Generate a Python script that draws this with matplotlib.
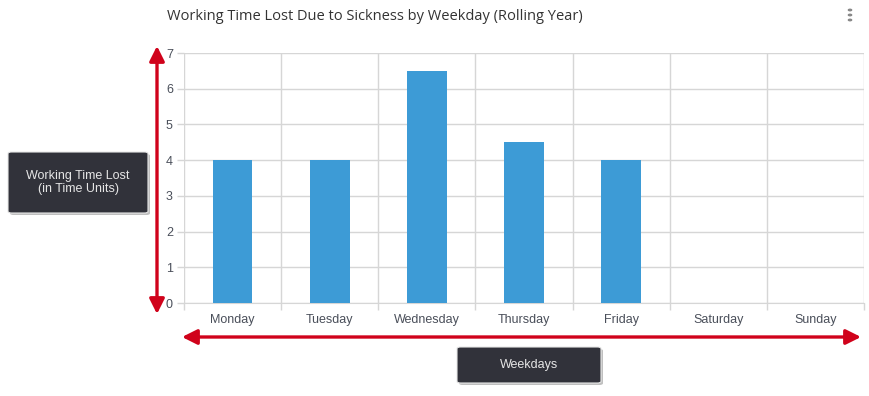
import matplotlib
matplotlib.use("Agg")
import matplotlib.pyplot as plt
from matplotlib.patches import FancyBboxPatch
from matplotlib.ticker import FixedLocator

categories = ["Monday", "Tuesday", "Wednesday", "Thursday", "Friday", "Saturday", "Sunday"]
values = [4, 4, 6.5, 4.5, 4, 0, 0]
yticks = [0, 1, 2, 3, 4, 5, 6, 7]
title = "Working Time Lost Due to Sickness by Weekday (Rolling Year)"
ylabel_box = "Working Time Lost\n(in Time Units)"
xlabel_box = "Weekdays"

W, H = 869, 396
fig = plt.figure(figsize=(W / 100, H / 100), dpi=100)
plt.rcParams['font.family'] = ['Liberation Sans', 'DejaVu Sans']

def fx(px):
    return px / W

def fy(py):
    return 1 - py / H

ax = fig.add_axes([fx(184), fy(303), fx(864) - fx(184), fy(53) - fy(303)])
xs = list(range(len(categories)))
ax.bar(xs, values, width=0.41, color="#3d9bd6", zorder=3)
ax.set_xlim(-0.5, len(categories) - 0.5)
ax.set_ylim(0, 7)
ax.set_yticks(yticks)
ax.set_xticks(xs)
ax.set_xticklabels(categories)
ax.xaxis.set_minor_locator(FixedLocator([i - 0.5 for i in range(len(categories) + 1)]))
ax.grid(axis="y", which="major", color="#d6d6d6", linewidth=1, zorder=0)
ax.grid(axis="x", which="minor", color="#d6d6d6", linewidth=1, zorder=0)
ax.tick_params(axis="x", which="major", length=0, pad=8, labelsize=9, labelcolor="#4a4f5a")
ax.tick_params(axis="x", which="minor", length=5, color="#d6d6d6", width=1)
ax.tick_params(axis="y", length=5, color="#d6d6d6", width=1, pad=3, labelsize=9, labelcolor="#4a4f5a")
for s in ["top", "right", "left"]:
    ax.spines[s].set_visible(False)
ax.spines["bottom"].set_color("#d6d6d6")

fig.text(fx(167), fy(17), title, fontsize=10.5, color="#333333", va="center", ha="left",
         family=['Open Sans', 'DejaVu Sans'])
# menu dots
for dy in (10, 15, 20):
    fig.patches.append(plt.Circle((fx(850), fy(dy)), 1.6 / W, transform=fig.transFigure,
                                  color="#888888"))

red = "#d0021b"
ax.annotate("", xy=(fx(157), fy(46)), xytext=(fx(157), fy(314)), xycoords="figure fraction",
            textcoords="figure fraction", annotation_clip=False,
            arrowprops=dict(arrowstyle="<|-|>,head_length=0.9,head_width=0.45", color=red, lw=2.4,
                            shrinkA=0, shrinkB=0))
ax.annotate("", xy=(fx(861), fy(337)), xytext=(fx(182), fy(337)), xycoords="figure fraction",
            textcoords="figure fraction", annotation_clip=False,
            arrowprops=dict(arrowstyle="<|-|>,head_length=0.9,head_width=0.45", color=red, lw=2.4,
                            shrinkA=0, shrinkB=0))

def box(x0, y0, x1, y1, text):
    sh = FancyBboxPatch((fx(x0 + 2), fy(y1 + 2)), fx(x1) - fx(x0), fy(y0) - fy(y1),
                        boxstyle="round,pad=0,rounding_size=0.004", transform=fig.transFigure,
                        facecolor="#000000", alpha=0.25, edgecolor="none")
    fig.patches.append(sh)
    b = FancyBboxPatch((fx(x0), fy(y1)), fx(x1) - fx(x0), fy(y0) - fy(y1),
                       boxstyle="round,pad=0,rounding_size=0.004", transform=fig.transFigure,
                       facecolor="#31323a", edgecolor="#e8e8e8", linewidth=0.8)
    fig.patches.append(b)
    fig.text(fx((x0 + x1) / 2), fy((y0 + y1) / 2), text, ha="center", va="center",
             fontsize=9, color="#e6e6e6", linespacing=1.2)

box(8, 152, 148, 213, ylabel_box)
box(457, 347, 601, 383, xlabel_box)

fig.savefig("out.png", dpi=100, facecolor="white")
